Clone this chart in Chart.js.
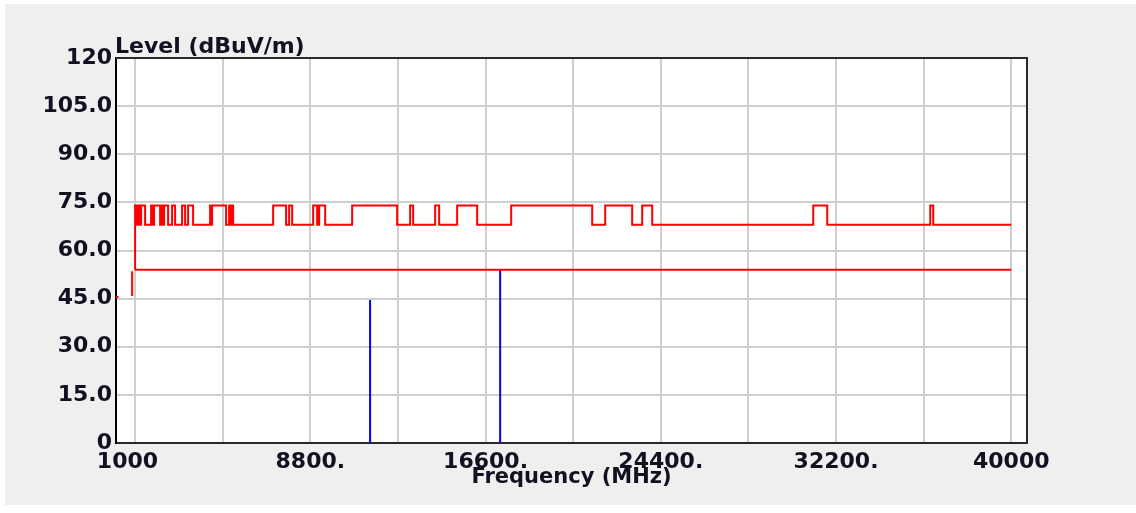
<!DOCTYPE html>
<html>
<head>
<meta charset="utf-8">
<title>Level vs Frequency</title>
<script src="https://cdn.jsdelivr.net/npm/chart.js@4.4.1/dist/chart.umd.min.js"></script>
<style>
  html, body { margin: 0; background: #fff; }
  #wrap { position: absolute; left: 5px; top: 4px; width: 1131px; height: 501px; background: #efefef; }
</style>
</head>
<body>
<div id="wrap"><canvas id="levelChart"></canvas></div>
<script>
/* globals Chart:false */

// Peak limit: frequency (MHz) where the level changes, and the level from there on
const peakEdges = [
  1000, 1089, 1134, 1223, 1267, 1445, 1712, 1801, 1846, 2113,
  2158, 2247, 2291, 2469, 2647, 2781, 3092, 3226, 3360, 3582,
  4339, 4384, 4428, 5051, 5185, 5274, 5318, 5363, 7144, 7722,
  7856, 7990, 8925, 9103, 9192, 9459, 10661, 12664, 13243, 13377,
  14356, 14534, 15335, 16226, 17740, 21346, 21924, 23126, 23572, 24017,
  31185, 31808, 36394, 36527
]
const peakLevels = [
  74, 68, 74, 68, 74, 68, 74, 68, 74, 68,
  74, 68, 74, 68, 74, 68, 74, 68, 74, 68,
  74, 68, 74, 68, 74, 68, 74, 68, 74, 68,
  74, 68, 74, 68, 74, 68, 74, 68, 74, 68,
  74, 68, 74, 68, 74, 68, 74, 68, 74, 68,
  74, 68, 74, 68
]
const stopFreq = 40000

// Average limit
const avgFreqs = [1000, 40000]
const avgLevels = [54, 54]

// Limit below 1 GHz, drawn as separate segments (pairs of points)
const lowFreqs = [150, 260, 870, 870]
const lowLevels = [45.5, 45.5, 45.8, 53.5]

// Measured emissions
const spikeFreqs = [11460, 17250]
const spikeLevels = [44.6, 54.2]

// Axes
const yTicks = [0, 15, 30, 45, 60, 75, 90, 105, 120]
const yTickLabels = ['0', '15.0', '30.0', '45.0', '60.0', '75.0', '90.0', '105.0', '120']
const xTicks = [1000, 4900, 8800, 12700, 16600, 20500, 24400, 28300, 32200, 36100, 40000]
const xTickLabels = ['1000  ', '', '8800.', '', '16600.', '', '24400.', '', '32200.', '', '40000']

;(() => {
  'use strict'

  const font = { family: '"DejaVu Sans", sans-serif', size: 22, weight: 'bold' }
  const textColor = '#111122'
  const gridColor = '#cfcfcf'

  // step line built from explicit vertical pairs
  const peakData = []
  let prev = avgLevels[0]
  peakEdges.forEach((f, i) => {
    peakData.push({ x: f, y: prev }, { x: f, y: peakLevels[i] })
    prev = peakLevels[i]
  })
  peakData.push({ x: stopFreq, y: prev })

  const avgData = avgFreqs.map((f, i) => ({ x: f, y: avgLevels[i] }))

  const lowData = []
  for (let i = 0; i < lowFreqs.length; i += 2) {
    lowData.push({ x: lowFreqs[i], y: lowLevels[i] }, { x: lowFreqs[i + 1], y: lowLevels[i + 1] }, { x: lowFreqs[i + 1], y: null })
  }

  const spikeData = []
  spikeFreqs.forEach((f, i) => {
    spikeData.push({ x: f, y: 0 }, { x: f, y: spikeLevels[i] }, { x: f, y: null })
  })

  // white plot area, top/right frame and the level caption
  const frame = {
    id: 'frame',
    beforeDraw (chart) {
      const { ctx, chartArea: a } = chart
      ctx.save()
      ctx.fillStyle = '#fff'
      ctx.fillRect(a.left, a.top, a.right - a.left, a.bottom - a.top)
      ctx.restore()
    },
    beforeDatasetsDraw (chart) {
      const { ctx, chartArea: a } = chart
      ctx.save()
      ctx.strokeStyle = '#2a2a2a'
      ctx.lineWidth = 2
      ctx.beginPath()
      ctx.moveTo(a.left, a.top)
      ctx.lineTo(a.right, a.top)
      ctx.lineTo(a.right, a.bottom)
      ctx.stroke()
      ctx.fillStyle = textColor
      ctx.font = 'bold 22px "DejaVu Sans", sans-serif'
      ctx.textBaseline = 'alphabetic'
      ctx.textAlign = 'left'
      ctx.fillText('Level (dBuV/m)', a.left - 1, a.top - 5)
      ctx.restore()
    }
  }

  const ctx = document.getElementById('levelChart')
  // eslint-disable-next-line no-unused-vars
  const levelChart = new Chart(ctx, {
    type: 'line',
    data: {
      datasets: [{
        label: 'Peak limit',
        data: peakData,
        borderColor: '#ff0000',
        borderWidth: 2,
        pointRadius: 0
      }, {
        label: 'Average limit',
        data: avgData,
        borderColor: '#ff0000',
        borderWidth: 2,
        pointRadius: 0
      }, {
        label: 'Limit < 1 GHz',
        data: lowData,
        borderColor: '#ff0000',
        borderWidth: 2,
        pointRadius: 0
      }, {
        label: 'Emission',
        data: spikeData,
        borderColor: '#0000ff',
        borderWidth: 2,
        pointRadius: 0
      }]
    },
    options: {
      responsive: true,
      maintainAspectRatio: false,
      animation: false,
      spanGaps: false,
      layout: { padding: { left: 0, right: 109, top: 54, bottom: 0 } },
      plugins: {
        legend: { display: false },
        tooltip: { enabled: false }
      },
      scales: {
        x: {
          type: 'linear',
          min: 150,
          max: 40700,
          afterBuildTicks: (s) => { s.ticks = xTicks.map(v => ({ value: v })) },
          afterFit: (s) => { s.height = 62 },
          ticks: {
            autoSkip: false,
            maxRotation: 0,
            padding: 6,
            color: textColor,
            font,
            callback: (v, i) => xTickLabels[i]
          },
          grid: { color: gridColor, lineWidth: 2, drawTicks: false },
          border: { display: true, color: '#2a2a2a', width: 2 },
          title: {
            display: true,
            text: 'Frequency (MHz)',
            color: textColor,
            font: { family: '"DejaVu Sans", sans-serif', size: 21, weight: 'bold' },
            padding: { top: 0, bottom: 15 }
          }
        },
        y: {
          min: 0,
          max: 120,
          afterBuildTicks: (s) => { s.ticks = yTicks.map(v => ({ value: v })) },
          afterFit: (s) => { s.width = 111 },
          ticks: {
            padding: 4,
            color: textColor,
            font,
            callback: (v, i) => yTickLabels[i]
          },
          grid: { color: gridColor, lineWidth: 2, drawTicks: false },
          border: { display: true, color: '#000', width: 2 }
        }
      }
    },
    plugins: [frame]
  })
})()
</script>
</body>
</html>
